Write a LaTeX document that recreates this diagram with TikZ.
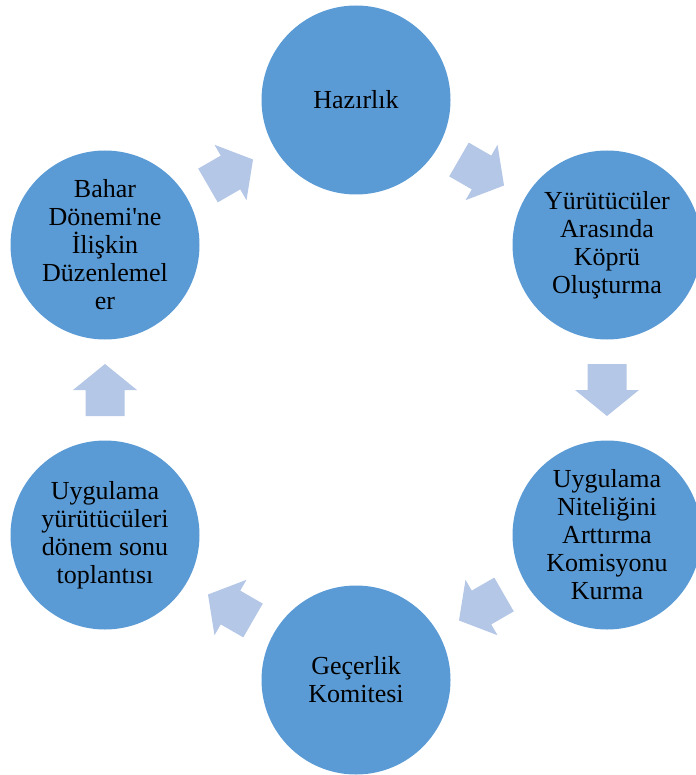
\documentclass[tikz,border=0pt]{standalone}
\usepackage{fontspec}
\setmainfont{Liberation Serif}[Ligatures=TeXOff]
\usetikzlibrary{calc}
\definecolor{circblue}{HTML}{5B9BD5}
\definecolor{arrblue}{HTML}{B4C7E7}
\begin{document}
\begin{tikzpicture}[x=1pt,y=-1pt,
  stage/.style={circle, fill=circblue, minimum size=189pt, inner sep=0pt, align=center,
    font=\fontsize{26}{28}\selectfont, text=black},
  blockarrow/.pic={\fill[arrblue] (-26,-19.5) -- (0,-19.5) -- (0,-32) -- (26,0) -- (0,32) -- (0,19.5) -- (-26,19.5) -- cycle;}]
\useasboundingbox (0,0) rectangle (695,775);
\node[stage] (hazir)  at (356,100) {Hazırlık};
\node[stage] (yurut)  at (607,245) {Yürütücüler\\Arasında\\Köprü\\Oluşturma};
\node[stage] (nitel)  at (607,535) {Uygulama\\Niteliğini\\Arttırma\\Komisyonu\\Kurma};
\node[stage] (gecer)  at (356,680) {Geçerlik\\Komitesi};
\node[stage] (uygyur) at (105,535) {Uygulama\\yürütücüleri\\dönem sonu\\toplantısı};
\node[stage] (bahar)  at (105,245) {Bahar\\Dönemi'ne\\İlişkin\\Düzenlemel\\er};
\path ($(hazir)!0.5!(yurut)$)  pic[rotate=-30]  {blockarrow};
\path ($(yurut)!0.5!(nitel)$)  pic[rotate=-90]  {blockarrow};
\path ($(nitel)!0.5!(gecer)$)  pic[rotate=-150] {blockarrow};
\path ($(gecer)!0.5!(uygyur)$) pic[rotate=150]  {blockarrow};
\path ($(uygyur)!0.5!(bahar)$) pic[rotate=90]   {blockarrow};
\path ($(bahar)!0.5!(hazir)$)  pic[rotate=30]   {blockarrow};
\end{tikzpicture}
\end{document}
